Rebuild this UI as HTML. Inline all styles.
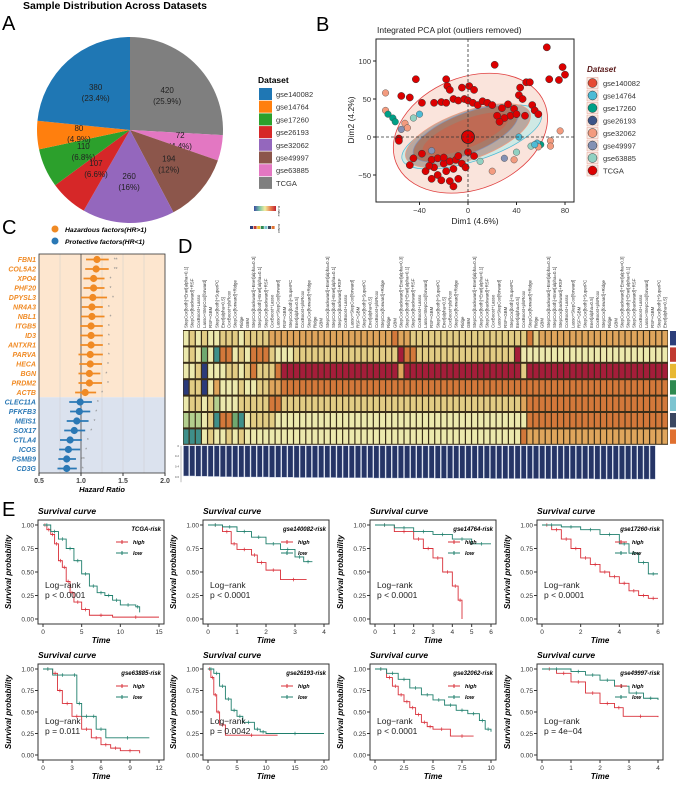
<!DOCTYPE html>
<html><head><meta charset="utf-8">
<style>
body{margin:0;background:#fff;}
svg{display:block;font-family:"Liberation Sans",sans-serif;}
</style></head>
<body>
<svg id="fig" width="676" height="787" viewBox="0 0 676 787">
<g id="gA"></g>
<g id="gB"></g>
<g id="gC"></g>
<g id="gD"></g>
<g id="gE"></g>
</svg>
<script>
// ---------- data ----------
const pieNames=["TCGA","gse63885","gse49997","gse32062","gse26193","gse17260","gse14764","gse140082"];
const pieValues=[420,72,194,260,107,110,80,380];
const piePct=["25.9%","4.4%","12%","16%","6.6%","6.8%","4.9%","23.4%"];
const legendNames=["gse140082","gse14764","gse17260","gse26193","gse32062","gse49997","gse63885","TCGA"];

const pcaRedX=[65,78,80,75,67,22,-43,-18,-17,-5,1,5,-15,-28,-22,-18,-12,-8,-3,0,4,8,12,16,20,28,33,38,42,45,48,51,53,55,58,43,35,30,24,26,40,47,-55,-48,-38,-57,-57,-45,-48,-38,-30,-25,-20,-15,-10,-5,-2,-12,-18,-25,-30,-22,-15,-8,-12,-35,-28,-32,-20,-8,5,0];
const pcaRedY=[118,92,82,75,76,95,76,76,67,65,67,62,62,45,46,45,50,48,50,48,45,42,47,45,42,38,43,37,55,50,72,72,42,35,30,65,28,25,28,20,30,28,54,52,45,-2,-5,-28,-37,-22,-30,-28,-35,-32,-30,-35,-40,-42,-45,-50,-55,-57,-58,-55,-65,-45,-40,-38,-27,-25,-25,-20];
const pcaOtherX=[-68,-68,-66,-62,-60,-52,-50,-55,60,57,58,76,68,68,42,38,20,-30,40,52,55,-40,-45,30,10];
const pcaOtherY=[58,35,30,25,20,18,12,10,-10,-8,-13,8,-5,-12,0,-30,-45,-18,-20,-12,-10,30,25,-28,-32];
const pcaOtherDs=[4,4,2,2,2,4,4,5,2,1,4,4,4,4,1,4,4,5,6,6,1,1,6,5,6];

const genes=["FBN1","COL5A2","XPO4","PHF20","DPYSL3","NR4A3","NBL1","ITGB5","ID3","ANTXR1","PARVA","HECA","BGN","PRDM2","ACTB","CLEC11A","PFKFB3","MEIS1","SOX17","CTLA4","ICOS","PSMB9","CD3G"];
const hr=[1.19,1.18,1.15,1.15,1.14,1.13,1.13,1.12,1.12,1.12,1.11,1.11,1.1,1.1,1.05,0.99,0.98,0.95,0.92,0.87,0.85,0.83,0.83];
const hrLow=[1.06,1.05,1.03,1.03,1.0,1.01,1.0,0.99,0.99,0.99,0.97,0.98,0.97,0.97,0.93,0.86,0.87,0.83,0.8,0.75,0.74,0.73,0.72];
const hrHigh=[1.33,1.33,1.28,1.28,1.31,1.26,1.28,1.26,1.26,1.26,1.26,1.25,1.23,1.25,1.18,1.13,1.11,1.09,1.05,1.01,0.99,0.94,0.95];
const sig=["**","**","*","*","*","*","*","*","*","*","*","*","*","*","*","*","*","*","*","*","*","**","*"];

const heatRows=[
"5656556665666677777777777777777777877666666666666666666686777777777777777777777",
"5653528856588865556666666666666666698866666666666666669555555555555555555555555",
"5560555665686668999999999999999999979999999999999999999699999999999999999999999",
"0660575556556677888888888888888888888888888888888888888888888888888888888888888",
"5665645556666688666666666666666666666666666666666666666788888888888888888888888",
"4445628832566665555555555555555555555555555555555555555588888888888888888888888",
"2225655656555555555555555555555555555555555555555555555877777777777777777777777"];
const meanC=[0.58,0.58,0.585,0.585,0.59,0.59,0.595,0.595,0.6,0.6,0.6,0.6,0.6,0.6,0.605,0.605,0.605,0.605,0.61,0.61,0.61,0.61,0.61,0.61,0.61,0.615,0.615,0.615,0.615,0.615,0.615,0.62,0.62,0.62,0.62,0.62,0.62,0.62,0.62,0.62,0.62,0.625,0.625,0.625,0.625,0.625,0.625,0.625,0.625,0.625,0.63,0.63,0.63,0.63,0.63,0.63,0.63,0.63,0.63,0.635,0.635,0.635,0.635,0.635,0.635,0.635,0.635,0.64,0.64,0.64,0.64,0.64,0.64,0.64,0.64,0.64,0.64];
const methodNames=["StepCox[both]+Enet[alpha=0.1]","StepCox[backward]+RSF","CoxBoost+Lasso","Lasso+StepCox[forward]","RSF+GBM","StepCox[both]+SuperPC","Enet[alpha=0.5]","CoxBoost+plsRcox","StepCox[forward]+Ridge","Ridge","GBM","StepCox[backward]+Enet[alpha=0.3]"];

const survNames=["TCGA-risk","gse140082-risk","gse14764-risk","gse17260-risk","gse63885-risk","gse26193-risk","gse32062-risk","gse49997-risk"];
const survXmax=[15,4,6,6,12,20,10,4];
const survTicks=[[0,5,10,15],[0,1,2,3,4],[0,1,2,3,4,5,6],[0,2,4,6],[0,3,6,9,12],[0,5,10,15,20],[0,2.5,5,7.5,10],[0,1,2,3,4]];
const survP=["p < 0.0001","p < 0.0001","p < 0.0001","p < 0.0001","p = 0.011","p = 0.0042","p < 0.0001","p = 4e\u221204"];
const highT=[[0,0.5,1,1.5,2,2.5,3,3.5,4,5,6,9,15],[0,0.5,0.8,1,1.5,1.7,2,2.5,3.4],[0,1,2,2.5,3,3.5,4,4.3,4.5],[0,0.5,1,1.5,2,2.5,3,3.5,4,4.5,5,5.5,6],[0,1,1.5,2,3,4,5,6,7,8,10],[0,0.5,1,1.5,2,3,12],[0,1,1.5,2,2.5,3,3.5,4,4.5,5,6.5,8.5],[0,0.5,1,1.5,2,2.5,2.8,4]];
const highS=[[1,0.95,0.9,0.8,0.62,0.55,0.4,0.28,0.18,0.1,0.04,0.02,0.02],[1,0.93,0.8,0.74,0.68,0.6,0.52,0.42,0.42],[1,0.93,0.85,0.75,0.65,0.5,0.35,0.2,0],[1,0.95,0.85,0.75,0.65,0.58,0.5,0.45,0.38,0.3,0.25,0.22,0.22],[1,0.95,0.75,0.6,0.45,0.3,0.2,0.12,0.08,0.05,0.02],[1,0.9,0.7,0.5,0.35,0.23,0.23],[1,0.9,0.8,0.7,0.62,0.55,0.47,0.38,0.33,0.3,0.22,0.22],[1,0.95,0.85,0.72,0.6,0.55,0.45,0.44]];
const lowT=[[0,1,2,3,4,5,6,7,8,9,10,12,12.5],[0,0.5,1,1.5,2,2.5,3,3.3,3.6],[0,1,2,3,4,5,6],[0,1,2,3,4,4.5,5,5.5,6],[0,1,3,3.5,4,5,5.5,6.5,11],[0,1,2,3,4,5,6,8,9,10,20],[0,1,2,3,4,5,6,7,8,9,9.5,10],[0,1,1.5,2,2.5,3,3.5,4]];
const lowS=[[1,0.93,0.85,0.75,0.62,0.48,0.35,0.28,0.25,0.2,0.15,0.13,0.07],[1,0.98,0.93,0.87,0.8,0.74,0.66,0.61,0.61],[1,0.97,0.93,0.9,0.85,0.8,0.8],[1,0.98,0.95,0.9,0.8,0.7,0.6,0.48,0.48],[1,0.93,0.93,0.6,0.45,0.45,0.3,0.2,0.2],[1,0.95,0.8,0.65,0.52,0.45,0.38,0.3,0.27,0.25,0.25],[1,0.95,0.88,0.78,0.7,0.64,0.58,0.52,0.48,0.4,0.3,0.27],[1,0.97,0.93,0.87,0.8,0.72,0.66,0.64]];

// ---------- helpers ----------
const NS="http://www.w3.org/2000/svg";
function mk(parent,tag,attrs,txt){const e=document.createElementNS(NS,tag);for(const k in attrs)e.setAttribute(k,attrs[k]);if(txt!==undefined)e.textContent=txt;parent.appendChild(e);return e;}
function txt(p,x,y,s,size,extra){const a=Object.assign({x:x,y:y,"font-size":size},extra||{});const t=mk(p,"text",a,s);return t;}

// ---------- A: pie ----------
const gA=document.getElementById("gA");
const pieCol={gse140082:"#1f77b4",gse14764:"#ff7f0e",gse17260:"#2ca02c",gse26193:"#d62728",gse32062:"#9467bd",gse49997:"#8c564b",gse63885:"#e377c2",TCGA:"#7f7f7f"};
txt(gA,115,9,"Sample Distribution Across Datasets",10.5,{"font-weight":"bold","text-anchor":"middle"});
txt(gA,2,30,"A",20);
(function(){const cx=130,cy=130,r=93;const tot=pieValues.reduce((a,b)=>a+b,0);let a0=0;
pieValues.forEach((v,i)=>{const a1=a0+v/tot*2*Math.PI;
 const p=`M${cx},${cy}L${cx+r*Math.sin(a0)},${cy-r*Math.cos(a0)}A${r},${r} 0 ${a1-a0>Math.PI?1:0} 1 ${cx+r*Math.sin(a1)},${cy-r*Math.cos(a1)}Z`;
 const s=mk(gA,"path",{d:p,fill:pieCol[pieNames[i]]});
 const am=(a0+a1)/2,lr=r*0.55;const lx=cx+lr*Math.sin(am),ly=cy-lr*Math.cos(am);
 txt(gA,lx,ly-2,String(v),8,{"text-anchor":"middle",fill:"#222"});txt(gA,lx,ly+9,"("+piePct[i]+")",8,{"text-anchor":"middle",fill:"#222"});
 a0=a1;});
txt(gA,258,83,"Dataset",8.5,{"font-weight":"bold"});
legendNames.forEach((n,i)=>{const y=88+i*12.7;const r2=mk(gA,"rect",{x:259,y:y,width:13,height:12,fill:pieCol[n]});txt(gA,276,y+9,n,7.5,{fill:"#333"});});
})();

// ---------- B: PCA ----------
const gB=document.getElementById("gB");
const dsCol=["#e64b35","#4dbbd5","#00a087","#3c5488","#f39b7f","#8491b4","#91d1c2","#dc0000"];
txt(gB,316,31,"B",20);
(function(){const X=d=>468+d*48.5/40,Y=d=>137-d*38/50;const L=376,R=574,T=39,Bt=202;
txt(gB,377,33,"Integrated PCA plot (outliers removed)",8.5,{fill:"#222"});
mk(gB,"rect",{x:L,y:T,width:R-L,height:Bt-T,fill:"#fff"});
const g=mk(gB,"g",{});
mk(g,"ellipse",{cx:X(2),cy:Y(5),rx:80,ry:56,transform:`rotate(-22 ${X(2)} ${Y(5)})`,fill:"#f7d2c4","fill-opacity":0.6,stroke:"#e04040","stroke-width":0.8});
mk(g,"ellipse",{cx:X(3),cy:Y(0),rx:73,ry:24,transform:`rotate(-18 ${X(3)} ${Y(0)})`,fill:"#cfe9e4",stroke:"#4dbbd5","stroke-width":0.7});
mk(g,"ellipse",{cx:X(0),cy:Y(2),rx:66,ry:24,transform:`rotate(-20 ${X(0)} ${Y(2)})`,fill:"#b9a8a0",stroke:"#f39b7f","stroke-width":0.7});
mk(g,"ellipse",{cx:X(-2),cy:Y(4),rx:56,ry:20,transform:`rotate(-22 ${X(-2)} ${Y(4)})`,fill:"#a87a68",stroke:"#8491b4","stroke-width":0.7});
mk(g,"ellipse",{cx:X(-2),cy:Y(4),rx:46,ry:14,transform:`rotate(-22 ${X(-2)} ${Y(4)})`,fill:"#c4674f","fill-opacity":0.8});
pcaOtherX.forEach((x,i)=>{const c=mk(g,"circle",{cx:X(x),cy:Y(pcaOtherY[i]),r:3.3,fill:dsCol[pcaOtherDs[i]],stroke:"#444","stroke-width":0.4});});
pcaRedX.forEach((x,i)=>{const c=mk(g,"circle",{cx:X(x),cy:Y(pcaRedY[i]),r:3.6,fill:"#dc0000",stroke:"#333","stroke-width":0.5});});
mk(g,"circle",{cx:X(0),cy:Y(0),r:6.5,fill:"#dc0000",stroke:"#222","stroke-width":0.8});
mk(gB,"line",{x1:X(0),x2:X(0),y1:T,y2:Bt,stroke:"#333","stroke-dasharray":"3,2","stroke-width":0.8});
mk(gB,"line",{x1:L,x2:R,y1:Y(0),y2:Y(0),stroke:"#333","stroke-dasharray":"3,2","stroke-width":0.8});
mk(gB,"rect",{x:L,y:T,width:R-L,height:Bt-T,fill:"none",stroke:"#222","stroke-width":1});
[-40,0,40,80].forEach(v=>{mk(gB,"line",{x1:X(v),x2:X(v),y1:Bt,y2:Bt+3,stroke:"#222"});txt(gB,X(v),Bt+11,String(v).replace("-","\u2212"),7.5,{"text-anchor":"middle",fill:"#333"});});
[100,50,0,-50].forEach(v=>{mk(gB,"line",{x1:L-3,x2:L,y1:Y(v),y2:Y(v),stroke:"#222"});txt(gB,L-5,Y(v)+3,String(v).replace("-","\u2212"),7.5,{"text-anchor":"end",fill:"#333"});});
txt(gB,475,224,"Dim1 (4.6%)",8.5,{"text-anchor":"middle",fill:"#222"});
txt(gB,354,120,"Dim2 (4.2%)",8.5,{"text-anchor":"middle",fill:"#222",transform:"rotate(-90 354 120)"});
txt(gB,587,72,"Dataset",8,{"font-weight":"bold","font-style":"italic",fill:"#5a1a1a"});
legendNames.forEach((n,i)=>{const y=83+i*12.5;mk(gB,"rect",{x:587,y:y-5.5,width:11,height:11,fill:"#f8ece6",stroke:"#e8a090","stroke-width":0.5});const c=mk(gB,"circle",{cx:592.5,cy:y,r:4.5,fill:dsCol[i],stroke:"#333","stroke-width":0.5});txt(gB,603,y+3,n,7.5,{fill:"#333"});});
})();

// ---------- C: forest ----------
const gC=document.getElementById("gC");
txt(gC,2,234,"C",20);
(function(){const X=v=>39+(v-0.5)*84;const Y=i=>259.5+i*9.5;const L=39,R=165;
mk(gC,"circle",{cx:55,cy:229,r:3.5,fill:"#f08a24"});txt(gC,65,232,"Hazardous factors(HR>1)",6.8,{"font-weight":"bold","font-style":"italic"});
mk(gC,"circle",{cx:55,cy:241,r:3.5,fill:"#2a78b5"});txt(gC,65,244,"Protective factors(HR<1)",6.8,{"font-weight":"bold","font-style":"italic"});
mk(gC,"rect",{x:L,y:254,width:R-L,height:Y(14.5)-254,fill:"#fde6cf"});
mk(gC,"rect",{x:L,y:Y(14.5),width:R-L,height:473-Y(14.5),fill:"#dbe2ee"});
[0.75,1.25,1.5,1.75].forEach(v=>mk(gC,"line",{x1:X(v),x2:X(v),y1:254,y2:473,stroke:"#ccc","stroke-width":0.5}));
mk(gC,"line",{x1:X(1),x2:X(1),y1:254,y2:473,stroke:"#444","stroke-width":0.8});
genes.forEach((g,i)=>{const col=hr[i]>=1.0&&i<15?"#f08a24":"#2a78b5";const y=Y(i);
 mk(gC,"line",{x1:X(hrLow[i]),x2:X(hrHigh[i]),y1:y,y2:y,stroke:col,"stroke-width":1.8});
 const c=mk(gC,"circle",{cx:X(hr[i]),cy:y,r:3.6,fill:col});
 txt(gC,X(hrHigh[i])+5,y+2,sig[i],5,{fill:"#888"});
 txt(gC,36,y+2.5,g,7,{"text-anchor":"end","font-weight":"bold","font-style":"italic",fill:col});});
mk(gC,"rect",{x:L,y:254,width:R-L,height:219,fill:"none",stroke:"#333","stroke-width":0.8});
[0.5,1.0,1.5,2.0].forEach(v=>{mk(gC,"line",{x1:X(v),x2:X(v),y1:473,y2:476,stroke:"#333"});txt(gC,X(v),483,v.toFixed(1),7,{"text-anchor":"middle","font-weight":"bold",fill:"#444"});});
txt(gC,102,492,"Hazard Ratio",7.5,{"text-anchor":"middle","font-weight":"bold","font-style":"italic"});
})();

// ---------- D: heatmap ----------
const gD=document.getElementById("gD");
txt(gD,178,253,"D",20);
(function(){const lvl=["#2b3a7a","#3f5fa8","#3e8f8a","#6fa870","#b3cf8e","#ece9ad","#e2cc84","#dfa55c","#d3783a","#a51d3a"];
const nCol=heatRows[0].length;const L=183,R=668;const cw=(R-L)/nCol;const T=330,rh=16.4;
mk(gD,"rect",{x:L,y:T,width:R-L,height:rh*7,fill:"#3a2e1a"});
heatRows.forEach((row,r)=>{for(let c=0;c<nCol;c++){const v=0.4+(+row[c])*0.035;const k=Math.round((v-0.4)/0.035);
 const e=mk(gD,"rect",{x:L+c*cw+0.6,y:T+r*rh+1,width:cw-1.2,height:rh-2,fill:lvl[k]});}});
const annCol=["#2c3e7a","#c03a30","#e8b832","#2e8a50","#7cc4d0","#3a4660","#e07030"];
annCol.forEach((c,i)=>mk(gD,"rect",{x:670,y:T+i*rh+1,width:6,height:rh-2,fill:c}));
const bT=T+rh*7+1;const bs=v=>v*52;
for(let c=0;c<nCol;c++){const e=mk(gD,"rect",{x:L+c*cw+0.5,y:bT,width:cw-1,height:bs(meanC[c]),fill:"#263566",stroke:"#b8c4dc","stroke-width":0.4});}
mk(gD,"line",{x1:L-2,x2:L-2,y1:bT,y2:bT+bs(0.7),stroke:"#555","stroke-width":0.4});
[0,0.2,0.4,0.6].forEach(v=>txt(gD,L-4,bT+bs(v)+1,String(v),3,{"text-anchor":"end",fill:"#555"}));
for(let c=0;c<nCol;c++){const x=L+c*cw+cw/2+1.5;const nm=methodNames[c%methodNames.length];
 txt(gD,x,328,nm,4.4,{transform:`rotate(-90 ${x} 328)`,fill:"#333"});}
const cb=mk(gD,"defs",{});const lg=mk(cb,"linearGradient",{id:"cg"});["#3b4ba0","#79c2a5","#f2eea0","#e88050","#c02030"].forEach((c,i)=>mk(lg,"stop",{offset:i*25+"%","stop-color":c}));
mk(gD,"rect",{x:254,y:206,width:22,height:5,fill:"url(#cg)"});
txt(gD,278,206,"C-index",3,{transform:"rotate(90 278 206)"});
annCol.forEach((c,i)=>mk(gD,"rect",{x:250+i*3.6,y:226,width:3,height:3,fill:c}));
txt(gD,278,224,"Cohort",3,{transform:"rotate(90 278 224)"});
})();

// ---------- E: survival ----------
const gE=document.getElementById("gE");
txt(gE,2,516,"E",20);
(function(){const xs=[38,203,370,537],ysT=[520,664],bh=[104,96],bw=126;
survNames.forEach((nm,k)=>{const row=k<4?0:1,col=k%4;const x0=xs[col],y0=ysT[row],h=bh[row];
 const g=mk(gE,"g",{});
 const X=t=>x0+5+t/survXmax[k]*(bw-10),Y=s=>y0+h-5-s*(h-10);
 txt(g,x0,y0-6,"Survival curve",8.5,{"font-weight":"bold","font-style":"italic"});
 mk(g,"rect",{x:x0,y:y0,width:bw,height:h,fill:"#fff",stroke:"#333","stroke-width":1});
 [0,0.25,0.5,0.75,1].forEach(s=>{mk(g,"line",{x1:x0-3,x2:x0,y1:Y(s),y2:Y(s),stroke:"#333"});txt(g,x0-4,Y(s)+2.5,s.toFixed(2),6.5,{"text-anchor":"end",fill:"#333"});});
 survTicks[k].forEach(t=>{mk(g,"line",{x1:X(t),x2:X(t),y1:y0+h,y2:y0+h+3,stroke:"#333"});txt(g,X(t),y0+h+10,String(t),6.5,{"text-anchor":"middle",fill:"#333"});});
 txt(g,x0+bw/2,y0+h+19,"Time",8,{"text-anchor":"middle","font-weight":"bold","font-style":"italic"});
 const yl=x0-27,ym=y0+h/2;txt(g,yl,ym,"Survival probability",8,{"text-anchor":"middle","font-weight":"bold","font-style":"italic",transform:`rotate(-90 ${yl} ${ym})`});
 function curve(T,S,color,nmx){let d=`M${X(T[0])},${Y(S[0])}`;for(let i=1;i<T.length;i++){d+=`H${X(T[i])}V${Y(S[i])}`;}
  const p=mk(g,"path",{d:d,fill:"none",stroke:color,"stroke-width":0.9});
  for(let i=1;i<T.length;i++){const cx=(X(T[i-1])+X(T[i]))/2,cy=Y(S[i-1]);mk(g,"path",{d:`M${cx-1.8},${cy}h3.6M${cx},${cy-1.8}v3.6`,stroke:color,"stroke-width":0.7});}}
 curve(highT[k],highS[k],"#d9303a","high");curve(lowT[k],lowS[k],"#1f7f6c","low");
 txt(g,x0+bw-3,y0+11,nm,6,{"text-anchor":"end","font-weight":"bold","font-style":"italic"});
 [["high","#d9303a"],["low","#1f7f6c"]].forEach((e,i)=>{const ly=y0+22+i*11,lx=x0+bw-48;mk(g,"line",{x1:lx,x2:lx+12,y1:ly,y2:ly,stroke:e[1]});mk(g,"path",{d:`M${lx+4},${ly}h4M${lx+6},${ly-2}v4`,stroke:e[1]});txt(g,lx+17,ly+2,e[0],5.5,{"font-style":"italic","font-weight":"bold"});});
 txt(g,x0+7,y0+h-36,"Log\u2212rank",8.5,{fill:"#222"});txt(g,x0+7,y0+h-26,survP[k],8.5,{fill:"#222"});
});})();
</script>
</body></html>
